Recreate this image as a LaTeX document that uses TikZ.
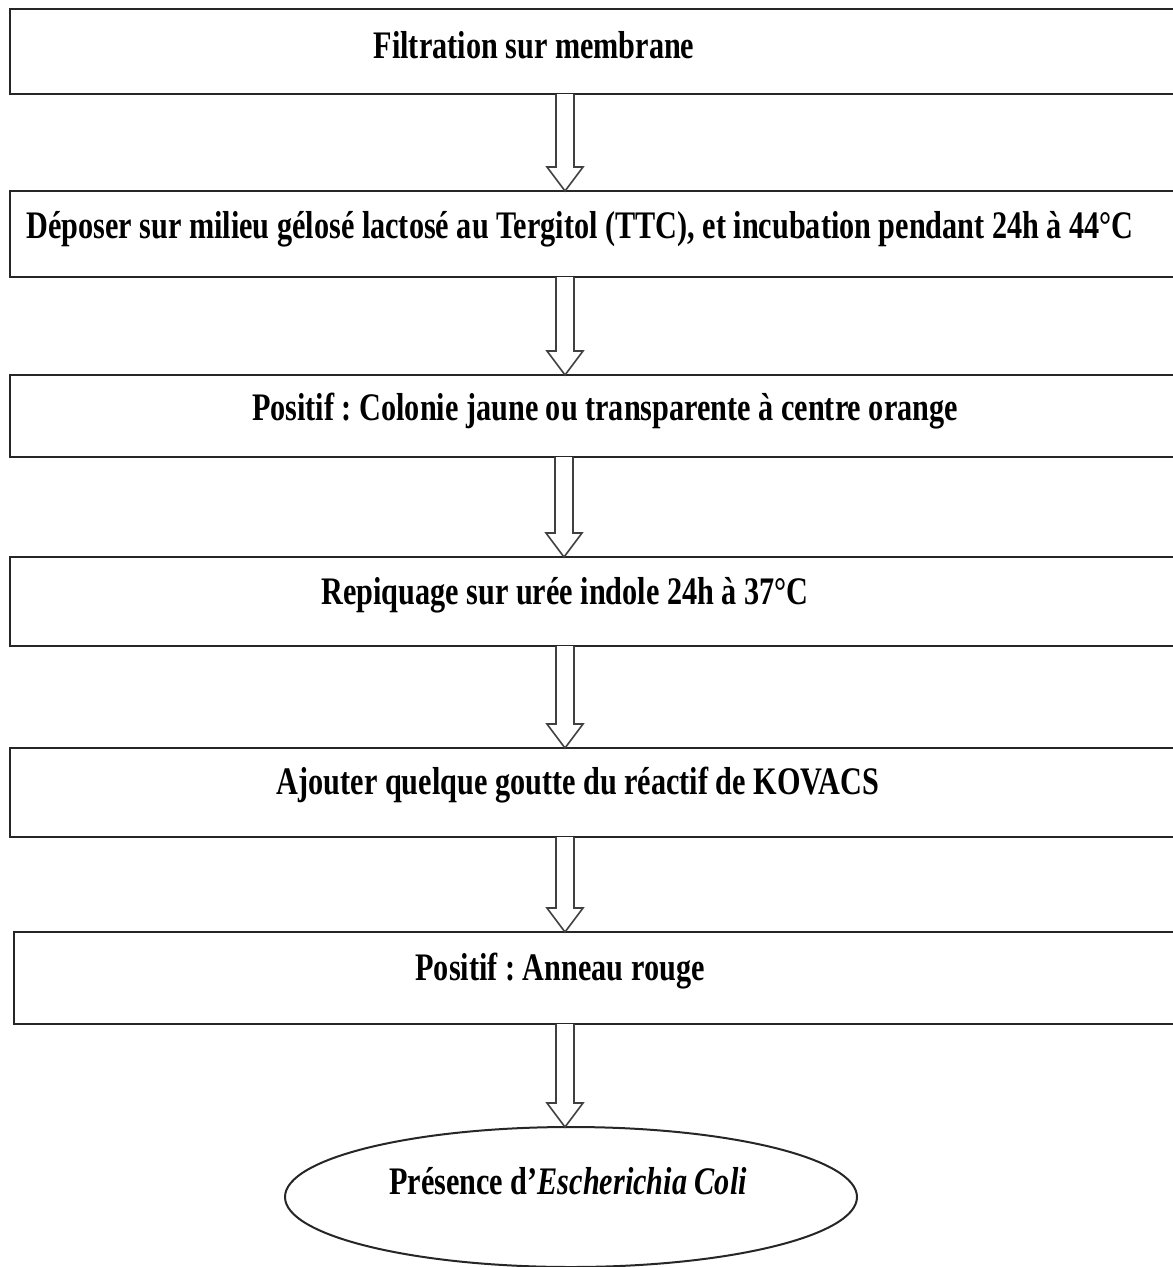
\documentclass[tikz,border=0pt]{standalone}
\usepackage{fontspec}
\setmainfont{Liberation Serif}[FakeStretch=0.775]
\usetikzlibrary{shapes.geometric,calc}
\frenchspacing
\tikzset{
  stepbox/.style={draw=black!85, line width=2pt, rectangle, minimum width=1170pt, inner sep=0pt, outer sep=0pt},
  steptext/.style={anchor=base, inner sep=0pt, font=\fontsize{39}{45}\selectfont\bfseries},
  endnode/.style={draw=black!85, line width=2pt, ellipse, minimum width=572pt, minimum height=140pt, inner sep=0pt, outer sep=0pt},
  harrow/.style={draw=black!75, line width=1.6pt, line join=miter, fill=white}
}
\newcommand\hollowarrow[3]{% from, to, axis x
  \draw[harrow] let \p1=(#1.south), \p2=(#2.north) in
    (#3-9,\y1) -- (#3-9,\y2+24pt) -- (#3-18,\y2+24pt) -- (#3,\y2) --
    (#3+18,\y2+24pt) -- (#3+9,\y2+24pt) -- (#3+9,\y1);
}
\begin{document}
\begin{tikzpicture}[x=1pt,y=-1pt]
\useasboundingbox (0,0) rectangle (1173,1267);
\clip (0,0) rectangle (1173,1267);
% boxes
\node[stepbox, minimum height=85pt] (b1) at (595,51.5) {};
\node[stepbox, minimum height=86pt] (b2) at (595,234) {};
\node[stepbox, minimum height=82pt] (b3) at (595,416) {};
\node[stepbox, minimum height=89pt] (b4) at (595,601.5) {};
\node[stepbox, minimum height=89pt] (b5) at (595,792.5) {};
\node[stepbox, minimum height=92pt] (b6) at (599,978) {};
\node[endnode] (e) at (571,1197) {};
% texts
\node[steptext] (t1) at (534,58) {Filtration sur membrane};
\node[steptext] (t2) at (580,238) {Déposer sur milieu gélosé lactosé au Tergitol (TTC), et incubation pendant 24h à 44°C};
\node[steptext] (t3) at (605,420) {Positif : Colonie jaune ou transparente à centre orange};
\node[steptext] (t4) at (565,604) {Repiquage sur urée indole 24h à 37°C};
\node[steptext] (t5) at (578,794) {Ajouter quelque goutte du réactif de KOVACS};
\node[steptext] (t6) at (560,980) {Positif : Anneau rouge};
\node[steptext] (te) at (568,1194) {Présence d’\textit{Escherichia Coli}};
% arrows
\hollowarrow{b1}{b2}{565}
\hollowarrow{b2}{b3}{565}
\hollowarrow{b3}{b4}{564}
\hollowarrow{b4}{b5}{565}
\hollowarrow{b5}{b6}{565}
\hollowarrow{b6}{e}{565}
\end{tikzpicture}
\end{document}
